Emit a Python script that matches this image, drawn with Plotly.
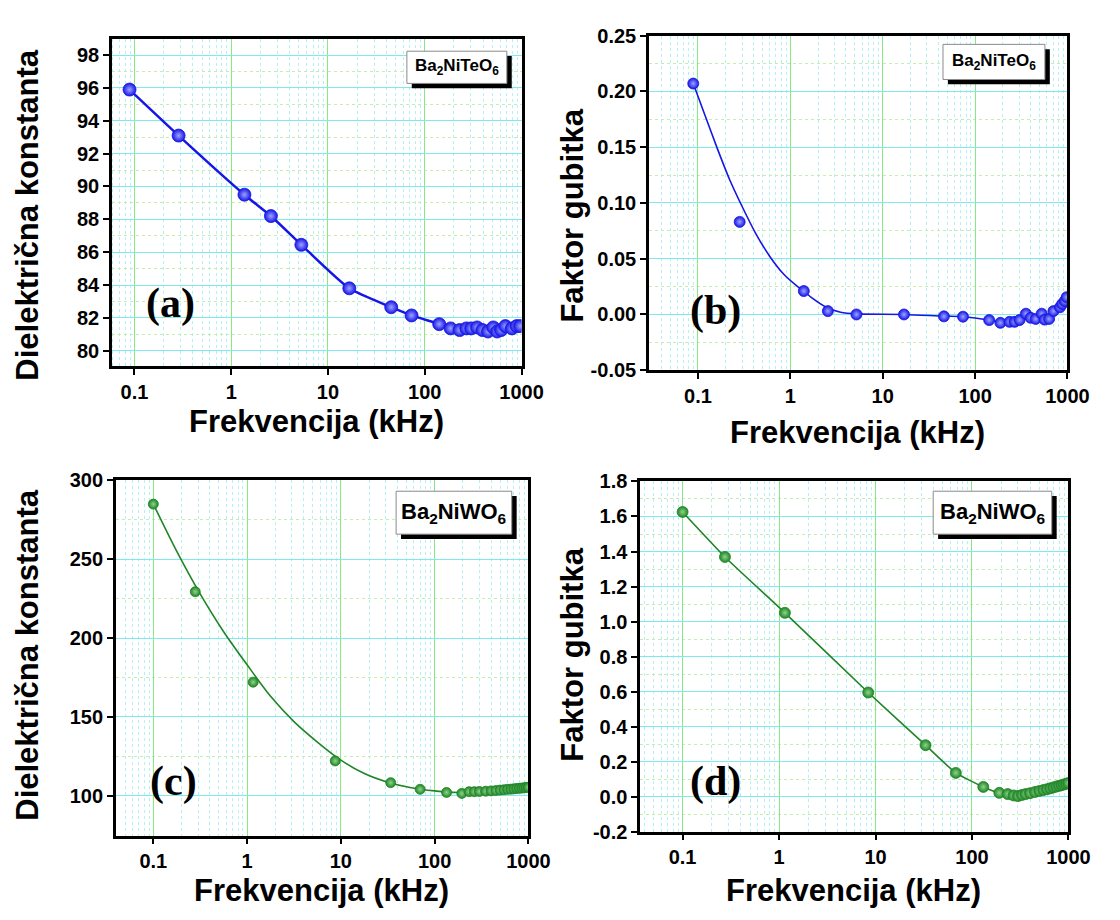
import plotly.graph_objects as go

W, H = 1120, 920          # window size
OFF = 8                   # default body margin of the page
FW, FH = W - 2 * OFF, H - 2 * OFF

# ---------------- data ----------------
# (a) Ba2NiTeO6 dielectric constant
a_freq = [0.089, 0.286, 1.37, 2.57, 5.3, 16.6, 45, 73, 141, 185, 229, 269, 302, 347, 395, 450, 510, 560, 615, 680, 795, 890, 970]
a_eps = [95.9, 93.1, 89.5, 88.2, 86.45, 83.8, 82.65, 82.15, 81.62, 81.36, 81.26, 81.36, 81.36, 81.42, 81.26, 81.17, 81.42, 81.17, 81.26, 81.5, 81.36, 81.5, 81.5]

# (b) Ba2NiTeO6 loss factor (points + fitted curve)
b_freq = [0.089, 0.283, 1.40, 2.55, 5.2, 17, 46, 74, 142, 188, 236, 268, 303, 355, 400, 453, 526, 565, 633, 705, 830, 877, 935, 980]
b_tan = [0.207, 0.083, 0.021, 0.003, 0.0, 0.0, -0.0017, -0.002, -0.005, -0.0075, -0.0066, -0.0066, -0.005, 0.0007, -0.003, -0.004, 0.0007, -0.0046, -0.004, 0.003, 0.0065, 0.0094, 0.012, 0.0155]
b_fit_freq = [0.089, 0.12, 0.16, 0.22, 0.3, 0.42, 0.6, 0.85, 1.2, 1.4, 1.7, 2.5, 3.5, 5.2, 17, 46, 74, 142, 188, 268, 400, 565, 705, 830, 935, 980]
b_fit_tan = [0.207, 0.178, 0.150, 0.121, 0.097, 0.073, 0.052, 0.036, 0.025, 0.021, 0.015, 0.006, 0.002, 0.0005, 0.0, -0.0015, -0.002, -0.005, -0.007, -0.006, -0.003, -0.003, 0.002, 0.006, 0.011, 0.0155]

# (c) Ba2NiWO6 dielectric constant (points + fitted curve)
c_freq = [0.1, 0.28, 1.16, 8.7, 34, 70, 134, 195, 233, 265, 300, 350, 400, 450, 500, 550, 600, 650, 700, 750, 800, 850, 900, 950, 1000]
c_eps = [285, 229.4, 172, 122, 108.2, 104, 102, 101.4, 102.5, 102.5, 102.6, 102.8, 103, 103.2, 103.5, 103.7, 104, 104.1, 104.3, 104.5, 104.6, 104.8, 105, 105.2, 105.3]
c_fit_freq = [0.1, 0.178, 0.316, 0.562, 1.0, 1.78, 3.16, 5.62, 10, 17.8, 31.6, 56.2, 100, 178, 316, 500, 700, 1000]
c_fit_eps = [285, 255, 228, 204, 183, 163, 147, 134, 122.5, 114, 108.5, 105, 103, 102, 102.6, 103.5, 104.3, 105.3]

# (d) Ba2NiWO6 loss factor
d_freq = [0.1, 0.275, 1.15, 8.4, 33, 68, 131, 192, 235, 270, 300, 330, 360, 400, 450, 500, 550, 600, 650, 700, 750, 800, 850, 900, 950, 1000]
d_tan = [1.626, 1.369, 1.05, 0.595, 0.294, 0.136, 0.056, 0.022, 0.015, 0.007, 0.004, 0.01, 0.015, 0.02, 0.027, 0.033, 0.038, 0.043, 0.048, 0.053, 0.058, 0.062, 0.066, 0.07, 0.074, 0.078]

x_tick_vals = [0.1, 1, 10, 100, 1000]
x_tick_text = ["0.1", "1", "10", "100", "1000"]
y_tick_vals = [
    [80, 82, 84, 86, 88, 90, 92, 94, 96, 98],
    [-0.05, 0.0, 0.05, 0.10, 0.15, 0.20, 0.25],
    [100, 150, 200, 250, 300],
    [-0.2, 0.0, 0.2, 0.4, 0.6, 0.8, 1.0, 1.2, 1.4, 1.6, 1.8],
]
y_tick_text = [
    ["80", "82", "84", "86", "88", "90", "92", "94", "96", "98"],
    ["-0.05", "0.00", "0.05", "0.10", "0.15", "0.20", "0.25"],
    ["100", "150", "200", "250", "300"],
    ["-0.2", "0.0", "0.2", "0.4", "0.6", "0.8", "1.0", "1.2", "1.4", "1.6", "1.8"],
]
x_title = "Frekvencija (kHz)"
y_titles = ["Dielektrična konstanta", "Faktor gubitka", "Dielektrična konstanta", "Faktor gubitka"]
panel_labels = ["(a)", "(b)", "(c)", "(d)"]
samples = ["Ba<sub>2</sub>NiTeO<sub>6</sub>", "Ba<sub>2</sub>NiTeO<sub>6</sub>",
           "Ba<sub>2</sub>NiWO<sub>6</sub>", "Ba<sub>2</sub>NiWO<sub>6</sub>"]

# ---------------- style ----------------
BLUE = "#1616e6"
BLUE_HI = "#9ea4ff"
GREEN = "#1f8526"
GREEN_HI = "#8fd48c"
MAJ_H = "#7ee9ef"
MAJ_V = "#86e886"
MIN_V = "#b4f1f5"
MIN_H = "#c8ecb0"
FONT = "Liberation Sans"


def px(x):
    return (x - OFF) / FW


def py(y):
    return 1 - (y - OFF) / FH


# frames in window pixels: (x0, x1, y0, y1) and axis ranges
frames = [
    (114, 532, 29, 364),
    (662, 1089, 25, 368),
    (118, 539, 481, 845),
    (653, 1090, 482, 841),
]
xranges = [[-1.233, 3.0], [-1.53, 3.0], [-1.40, 3.0], [-1.44, 3.0]]
yranges = [[79.05, 98.95], [-0.05, 0.25], [74.6, 300], [-0.2, 1.8]]
yminor = [1, 0.025, 25, 0.1]

minor_x = [m * 10 ** e for e in range(-2, 4) for m in range(2, 10)]

fig = go.Figure()


def ball(color, hi, size):
    return dict(size=size, color=color, gradient=dict(type="radial", color=hi),
                line=dict(width=0.8, color=color))


fig.add_trace(go.Scatter(x=a_freq, y=a_eps, mode="lines+markers",
                         line=dict(color=BLUE, width=2.5, shape="spline", smoothing=0.6),
                         marker=ball(BLUE, BLUE_HI, 13), xaxis="x", yaxis="y", showlegend=False))
fig.add_trace(go.Scatter(x=b_fit_freq, y=b_fit_tan, mode="lines",
                         line=dict(color=BLUE, width=1.6, shape="spline", smoothing=0.8),
                         xaxis="x2", yaxis="y2", showlegend=False))
fig.add_trace(go.Scatter(x=b_freq, y=b_tan, mode="markers", marker=ball(BLUE, BLUE_HI, 11),
                         xaxis="x2", yaxis="y2", showlegend=False))
fig.add_trace(go.Scatter(x=c_fit_freq, y=c_fit_eps, mode="lines",
                         line=dict(color=GREEN, width=1.6, shape="spline", smoothing=0.8),
                         xaxis="x3", yaxis="y3", showlegend=False))
fig.add_trace(go.Scatter(x=c_freq, y=c_eps, mode="markers", marker=ball(GREEN, GREEN_HI, 10),
                         xaxis="x3", yaxis="y3", showlegend=False))
fig.add_trace(go.Scatter(x=d_freq, y=d_tan, mode="lines+markers",
                         line=dict(color=GREEN, width=1.6, shape="spline", smoothing=0.5),
                         marker=ball(GREEN, GREEN_HI, 11), xaxis="x4", yaxis="y4", showlegend=False))

layout = dict(width=FW, height=FH, margin=dict(l=0, r=0, t=0, b=0),
              paper_bgcolor="white", plot_bgcolor="white", showlegend=False)

tickfont = dict(family=FONT, size=20, color="black")
shapes = []
annotations = []
for i, (x0, x1, y0, y1) in enumerate(frames):
    sx = "" if i == 0 else str(i + 1)
    layout["xaxis" + sx] = dict(
        type="log", domain=[px(x0), px(x1)], range=xranges[i], anchor="y" + sx,
        tickmode="array", tickvals=x_tick_vals, ticktext=["<b>%s</b>" % t for t in x_tick_text],
        ticks="outside", ticklen=6, tickwidth=2, tickcolor="black",
        showline=True, linecolor="black", linewidth=2.5, mirror=True,
        showgrid=True, gridcolor=MAJ_V, gridwidth=1.2,
        minor=dict(tickmode="array", tickvals=minor_x, showgrid=True, gridcolor=MIN_V,
                   griddash="dot", gridwidth=1, ticks=""),
        tickfont=tickfont, zeroline=False,
    )
    layout["yaxis" + sx] = dict(
        domain=[py(y1), py(y0)], range=yranges[i], anchor="x" + sx,
        tickmode="array", tickvals=y_tick_vals[i], ticktext=["<b>%s</b>" % t for t in y_tick_text[i]],
        ticks="outside", ticklen=6, tickwidth=2, tickcolor="black",
        showline=True, linecolor="black", linewidth=2.5, mirror=True,
        showgrid=True, gridcolor=MAJ_H, gridwidth=1.2,
        minor=dict(dtick=yminor[i], tick0=0, showgrid=True, gridcolor=MIN_H,
                   griddash="dot", gridwidth=1, ticks=""),
        tickfont=tickfont, zeroline=False,
    )

# axis titles
xt_pos = [(323, 421), (875, 432), (328, 901), (871, 901)]
yt_pos = [(28, 209), (584, 210), (28, 660), (584, 660)]
for i in range(4):
    annotations.append(dict(xref="paper", yref="paper", x=px(xt_pos[i][0]), y=py(xt_pos[i][1]),
                            text="<b>%s</b>" % x_title, showarrow=False, xanchor="center", yanchor="middle",
                            font=dict(family=FONT, size=31, color="black")))
    annotations.append(dict(xref="paper", yref="paper", x=px(yt_pos[i][0]), y=py(yt_pos[i][1]),
                            text="<b>%s</b>" % y_titles[i], showarrow=False, xanchor="center",
                            yanchor="middle", textangle=-90,
                            font=dict(family=FONT, size=31, color="black")))

# panel labels
pl_pos = [(174, 300), (730, 307), (177, 790), (730, 790)]
for i in range(4):
    annotations.append(dict(xref="paper", yref="paper", x=px(pl_pos[i][0]), y=py(pl_pos[i][1]),
                            text="<b>%s</b>" % panel_labels[i], showarrow=False, xanchor="center",
                            yanchor="middle",
                            font=dict(family="Liberation Serif", size=42, color="black")))

# sample boxes (box x0,x1,y0,y1) with shadow
boxes = [(415, 517, 41, 74), (962, 1066, 34, 70), (404, 522, 492, 536), (952, 1073, 492, 536)]
box_font = [17, 17, 22, 22]
for i, (bx0, bx1, by0, by1) in enumerate(boxes):
    shapes.append(dict(type="rect", xref="paper", yref="paper", x0=px(bx0 + 5), x1=px(bx1 + 5),
                       y0=py(by1 + 5), y1=py(by0 + 5), fillcolor="black", line=dict(width=0)))
    shapes.append(dict(type="rect", xref="paper", yref="paper", x0=px(bx0), x1=px(bx1),
                       y0=py(by1), y1=py(by0), fillcolor="white", line=dict(width=1, color="#8a8a8a")))
    annotations.append(dict(xref="paper", yref="paper", x=px((bx0 + bx1) / 2), y=py((by0 + by1) / 2),
                            text="<b>%s</b>" % samples[i], showarrow=False, xanchor="center",
                            yanchor="middle",
                            font=dict(family=FONT, size=box_font[i], color="black")))

layout["shapes"] = shapes
layout["annotations"] = annotations
fig.update_layout(**layout)

fig.write_html("out.html")
